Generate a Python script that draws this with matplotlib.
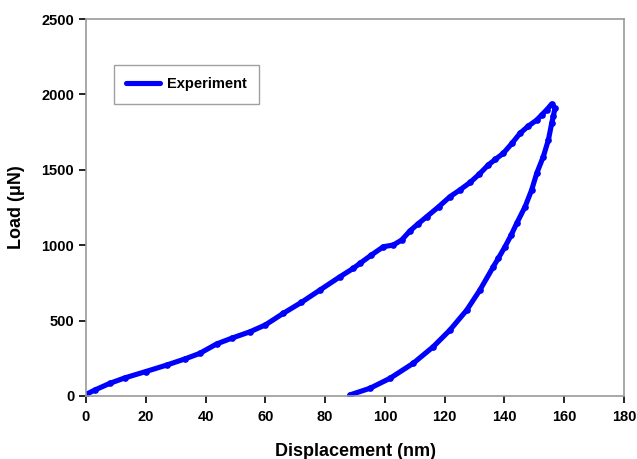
import matplotlib
matplotlib.use("Agg")
import matplotlib.pyplot as plt

plt.rcParams['font.family'] = ['Liberation Sans', 'DejaVu Sans']
plt.rcParams['font.weight'] = 'bold'

# loading branch (nm, uN)
load_x = [0, 3, 8, 13, 20, 27, 33, 38, 43.7, 49, 54.9, 60, 66, 72, 78.3, 85, 89.4, 91.7,
          95.5, 99.5, 102.8, 105.6, 108.4, 111, 114, 118, 121.8, 125, 128.5, 131.5,
          134.6, 137, 139.6, 142.5, 145.2, 148, 150.8, 152.5, 154.1, 155.8]
load_y = [10, 40, 84, 120, 162, 205, 245, 282, 345, 385, 426, 471, 548, 620, 703, 791, 846, 880,
          935, 990, 1001, 1034, 1095, 1140, 1189, 1255, 1322, 1365, 1416, 1470,
          1532, 1570, 1609, 1675, 1742, 1790, 1830, 1865, 1897, 1936]

# unloading branch
unload_x = [155.8, 156.9, 156.4, 155.8, 154.7, 153, 150.8, 149.1, 146.9, 144.1, 142.2,
            140.2, 138, 136.3, 131.8, 127.4, 121.8, 116.2, 109.5, 101.7, 95, 88.3]
unload_y = [1936, 1908, 1860, 1808, 1698, 1587, 1477, 1366, 1255, 1145, 1065,
            990, 915, 858, 703, 570, 438, 327, 217, 117, 51, 7]

x_ticks = [0, 20, 40, 60, 80, 100, 120, 140, 160, 180]
y_ticks = [0, 500, 1000, 1500, 2000, 2500]

fig = plt.figure(figsize=(6.37, 4.59), dpi=100)
ax = fig.add_axes([0.135, 0.1373, 0.8446, 0.8213])

xs = load_x + unload_x[1:]
ys = load_y + unload_y[1:]
ax.plot(xs, ys, color='#0000ff', linewidth=3.7, marker='o', markersize=3.8,
        label='Experiment', solid_capstyle='round', solid_joinstyle='round')

ax.set_xlim(0, 180)
ax.set_ylim(0, 2500)
ax.set_xticks(x_ticks)
ax.set_yticks(y_ticks)
ax.tick_params(direction='out', length=5, width=1.2, color='black', labelsize=10.5)
ax.tick_params(axis='x', pad=5)
for s in ax.spines.values():
    s.set_color('#999999')
    s.set_linewidth(1.2)

ax.set_xlabel('Displacement (nm)', fontsize=13, fontweight='bold', labelpad=14)
ax.set_ylabel('Load (μN)', fontsize=13, fontweight='bold', labelpad=12)

leg = ax.legend(loc='upper left', bbox_to_anchor=(0.052, 0.878), borderaxespad=0,
                fancybox=False, handlelength=2.3, handletextpad=0.5,
                fontsize=10.5, borderpad=0.85)
leg.get_frame().set_edgecolor('#888888')
leg.get_frame().set_linewidth(1.0)
for h in leg.get_lines():
    h.set_marker('')

fig.savefig('out.png', dpi=100)
